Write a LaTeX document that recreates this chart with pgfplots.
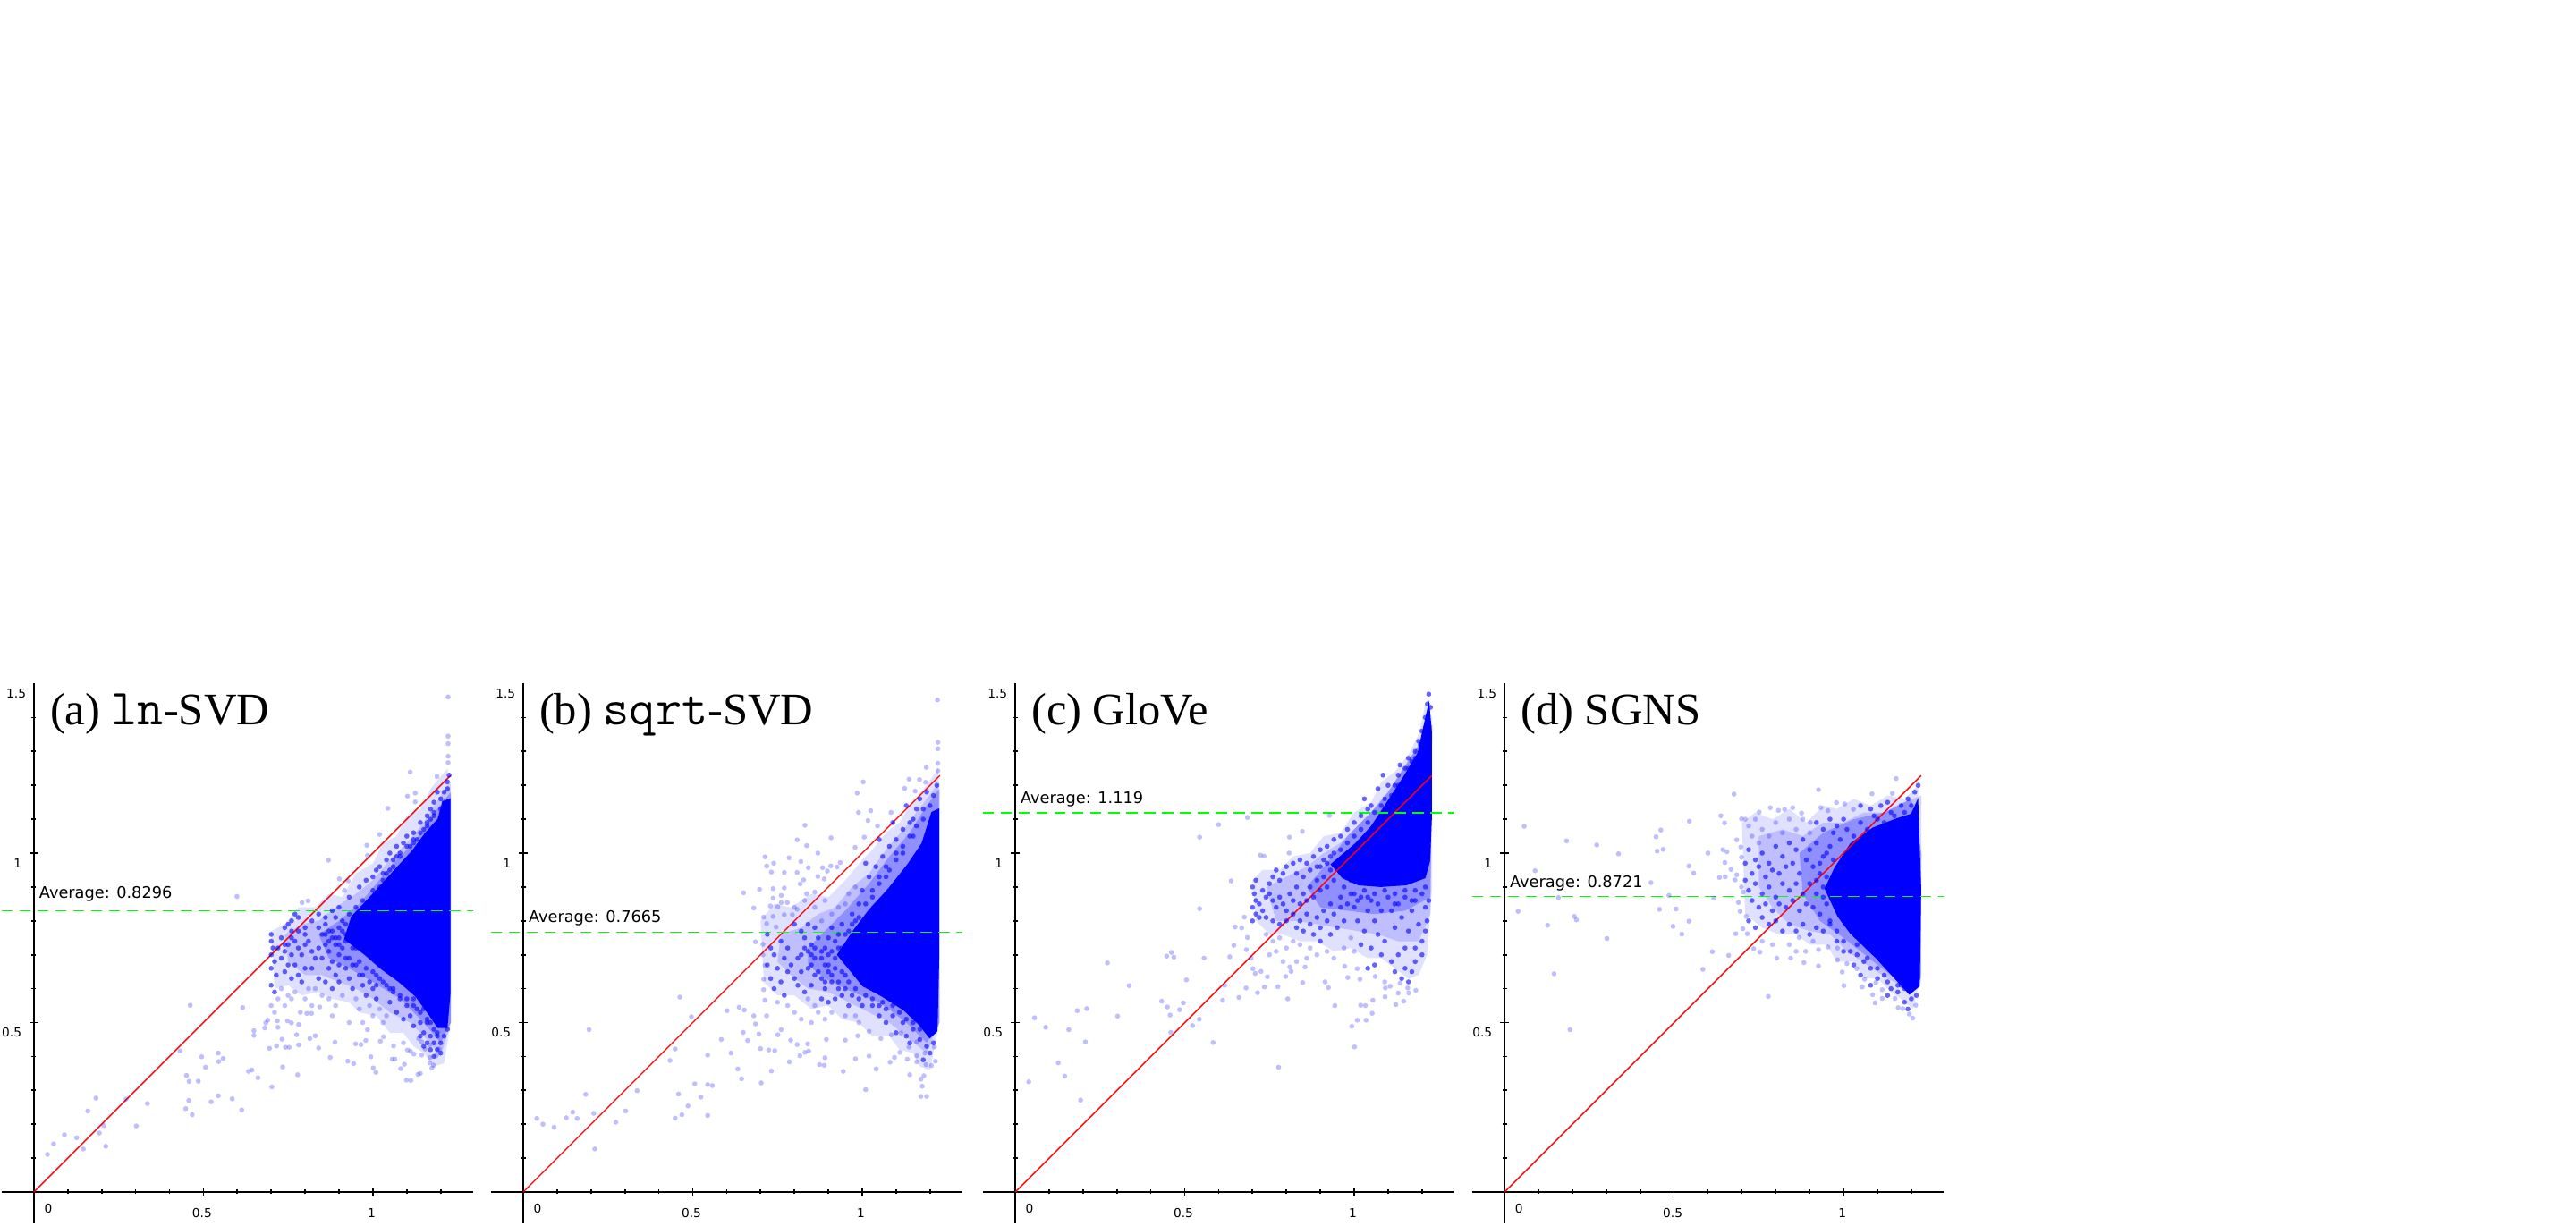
\documentclass[border=0pt]{standalone}
\usepackage{fontspec}
\setmainfont{Liberation Serif}
\newfontfamily\labelfont{DejaVu Sans}
\usepackage{pgfplots}
\pgfplotsset{compat=1.18}
% 1 px of the reference = 0.01cm. The solid core of each cloud is an outline polygon with three
% paler outlines around it (where points are too many to list); the points are read off by eye.
\definecolor{avggreen}{RGB}{0,255,0}
\pgfplotsset{
  panel/.style={
    anchor=origin, x=3.79cm, y=3.79cm,
    xmin=-0.096, xmax=1.295, ymin=-0.0935, ymax=1.5,
    axis lines=middle, axis line style={-, black, line width=0.5pt},
    hide obscured x ticks=false, hide obscured y ticks=false,
    xtick={0.5,1}, xticklabels={0.5,1},
    ytick={0.5,1}, yticklabels={0.5,1},
    minor xtick={0.1,0.2,0.3,0.4,0.6,0.7,0.8,0.9,1.1,1.2},
    minor ytick={0.1,0.2,0.3,0.4,0.6,0.7,0.8,0.9,1.1,1.2,1.3,1.4},
    extra x ticks={0}, extra x tick labels={0},
    extra x tick style={major tick length=0pt, xticklabel style={xshift=0.175cm}},
    extra y ticks={1.5}, extra y tick labels={1.5},
    extra y tick style={major tick length=0pt},
    tick align=center, tick style={black, line width=0.5pt},
    major tick length=0.1cm, minor tick length=0.05cm,
    xticklabel style={font=\labelfont\fontsize{3.9}{5}\selectfont, anchor=center, yshift=-0.185cm, xshift=-0.015cm},
    yticklabel style={font=\labelfont\fontsize{3.9}{5}\selectfont, anchor=east, yshift=-0.115cm, xshift=0.035cm},
    clip=false,
  },
  cloud/.style={only marks, mark=*, mark size=0.8pt,
    mark options={draw opacity=0, fill=blue, fill opacity=0.25}},
  dense/.style={only marks, mark=*, mark size=0.8pt,
    mark options={draw opacity=0, fill=blue, fill opacity=0.6}},
  core/.style={draw=none, fill=blue, mark=none},
  halo/.style={draw=none, fill=blue, fill opacity=#1, mark=none},
  diag/.style={red, line width=0.4pt, mark=none},
  avg/.style={avggreen, line width=0.45pt, mark=none, dash pattern=on 3.6pt off 2.1pt},
}
\newcommand{\paneltitle}[1]{\node[anchor=base west, inner sep=0pt, font=\fontsize{14.4}{16}\selectfont] at (axis cs:0.046,1.378) {#1};}
\newcommand{\tttitle}[1]{{\fontsize{16.1}{16}\selectfont\ttfamily #1}}
\newcommand{\avglabel}[2]{\node[anchor=base west, inner sep=0pt, font=\labelfont\fontsize{5.05}{6}\selectfont] at (axis cs:0.014,#1) {#2};}
\begin{document}
\begin{tikzpicture}
\path[use as bounding box] (0,0) rectangle (28.8,13.71);

% (a)
\begin{axis}[panel, at={(0.379cm,0.38cm)}]
\addplot[halo=0.12] coordinates {(.70,.77)(.74,.79)(.78,.84)(.83,.84)(.87,.88)(.91,.87)(.95,.94)(1.0,.97)(1.03,1.03)(1.07,1.05)(1.10,1.11)(1.14,1.13)(1.17,1.19)(1.22,1.25)(1.23,1.16)(1.23,.50)(1.21,.38)(1.18,.37)(1.15,.41)(1.12,.43)(1.09,.47)(1.05,.47)(1.01,.52)(.96,.53)(.93,.56)(.88,.57)(.84,.59)(.79,.58)(.75,.61)(.71,.60)(.70,.77)};
\addplot[halo=0.15] coordinates {(.74,.76)(.79,.79)(.84,.80)(.89,.84)(.95,.88)(1.0,.92)(1.05,.98)(1.10,1.03)(1.15,1.09)(1.20,1.17)(1.23,1.21)(1.23,.5)(1.2,.40)(1.16,.45)(1.11,.50)(1.05,.53)(1.0,.57)(.95,.60)(.90,.62)(.85,.64)(.80,.64)(.75,.68)(.74,.76)};
\addplot[halo=0.25] coordinates {(.84,.76)(.90,.80)(.96,.85)(1.01,.91)(1.06,.97)(1.12,1.03)(1.19,1.13)(1.23,1.18)(1.23,.5)(1.2,.44)(1.15,.50)(1.08,.57)(1.0,.62)(.93,.66)(.87,.69)(.84,.76)};
\addplot[core] coordinates {(1.229,1.162)(1.205,1.152)(1.191,1.101)(1.154,1.060)(1.116,1.008)(1.069,.957)(1.022,.905)(.975,.854)(.936,.813)(.915,.746)(.975,.700)(1.022,.659)(1.078,.618)(1.125,.577)(1.163,.525)(1.191,.484)(1.220,.484)(1.229,.587)(1.229,1.162)};
\addplot[cloud] coordinates {
(1.222,1.461)(1.222,1.345)(1.222,1.323)(1.222,1.286)(1.222,1.267)(1.110,1.239)(1.189,1.226)(1.102,1.168)(1.125,1.177)(1.125,1.151)(1.044,1.132)(1.020,1.055)(.982,1.023)(.984,.993)(.869,.979)(.901,.924)(.927,.918)(.599,.872)(.809,.859)(.791,.854)(.916,.890)
(.461,.551)(.616,.544)(.431,.416)(.544,.410)(.558,.394)(.545,.385)(.495,.399)(.506,.368)(.450,.344)(.458,.326)(.485,.327)(.633,.356)(.643,.360)(.661,.337)(.702,.310)(.734,.369)(.778,.346)(.544,.284)(.585,.275)(.523,.266)(.457,.270)(.448,.246)(.467,.228)(.613,.242)
(.183,.277)(.272,.274)(.335,.261)(.159,.239)(.206,.196)(.302,.195)(.193,.174)(.212,.135)(.146,.127)(.126,.160)(.090,.169)(.058,.142)(.040,.111)
(.994,.399)(1.001,.366)(1.009,.353)(.926,.386)(.943,.379)(.874,.397)(.888,.442)(.840,.425)(.781,.434)(.753,.427)(.742,.427)(.716,.431)(.695,.424)(.732,.451)(.775,.464)(.814,.453)(.830,.461)(.649,.476)(.649,.462)(.681,.484)(.684,.499)(.690,.507)(.718,.505)(.720,.486)(.748,.505)(.760,.499)(.781,.494)(.786,.530)(.805,.527)(.819,.527)(.843,.546)
(1.082,.364)(1.093,.377)(1.099,.330)(1.112,.329)(1.133,.347)(1.140,.350)(1.057,.392)(1.065,.392)(1.061,.431)(1.022,.445)(.984,.479)(.949,.437)(.965,.435)(.979,.447)(1.031,.458)(1.090,.440)(1.111,.415)(1.121,.407)(1.102,.419)(1.144,.404)(1.168,.381)(1.174,.366)(1.179,.374)(1.168,.397)(1.154,.422)(1.187,.402)(1.196,.422)(1.168,.433)(1.144,.443)(1.135,.453)
(.70,.55)(.71,.53)(.72,.57)(.73,.60)(.74,.55)(.76,.57)(.75,.58)(.77,.59)(.80,.57)(.82,.55)(.81,.60)(.83,.60)(.85,.58)(.87,.57)(.89,.55)(.91,.58)(.88,.52)(.93,.50)(.97,.50)(1.00,.52)(1.03,.50)(1.04,.52)(.95,.57)(.96,.54)(.99,.55)(1.02,.54)
};
\addplot[dense] coordinates {
(.70,.76)(.70,.74)(.705,.72)(.70,.70)(.71,.68)(.70,.66)(.715,.64)(.70,.61)(.71,.59)
(.73,.75)(.74,.71)(.73,.69)(.75,.67)(.74,.65)(.76,.63)(.75,.73)(.76,.70)(.76,.77)(.74,.78)(.72,.72)(.74,.73)(.76,.75)(.78,.77)
(.77,.74)(.78,.72)(.79,.70)(.77,.67)(.80,.66)(.78,.64)(.79,.62)(.81,.74)(.80,.76)(.82,.71)(.83,.69)(.82,.66)(.84,.63)(.80,.73)(.77,.82)(.78,.81)(.76,.80)(.75,.79)(.82,.80)(.80,.78)
(.84,.78)(.85,.76)(.86,.79)(.87,.77)(.88,.75)(.86,.73)(.84,.72)(.87,.71)(.89,.73)(.85,.69)(.88,.68)(.90,.70)(.87,.66)(.89,.64)(.86,.62)(.88,.60)(.90,.62)(.90,.78)(.89,.81)(.91,.80)(.92,.76)(.90,.75)(.91,.72)(.93,.69)(.84,.82)(.86,.81)(.88,.83)(.90,.84)
(.94,.72)(.92,.66)(.95,.67)(.93,.63)(.96,.64)(.94,.60)(.97,.61)(.98,.58)(1.00,.60)(1.01,.57)(1.05,.56)(.92,.79)(.93,.82)(.95,.84)(.94,.79)(.96,.82)
(1.06,.59)(1.08,.57)(1.10,.55)(1.07,.53)(1.09,.51)(1.11,.52)(1.12,.49)(1.13,.54)(1.14,.50)(1.15,.47)(1.16,.50)(1.17,.46)(1.18,.44)(1.19,.46)(1.20,.44)(1.21,.46)(1.19,.42)(1.17,.42)(1.16,.44)(1.15,.43)(1.18,.40)(1.20,.41)(1.22,.48)(1.21,.50)(1.14,.46)(1.03,.62)(1.05,.60)(1.01,.64)
(.97,.86)(.93,.87)(.96,.90)(.98,.92)(1.00,.93)(1.02,.96)(1.04,.98)(1.05,1.00)(1.07,1.02)(1.09,1.03)(1.10,1.05)(1.12,1.06)(1.14,1.09)(1.16,1.11)(1.17,1.13)(1.18,1.15)(1.20,1.16)(1.21,1.18)(1.22,1.21)(1.00,.89)(1.03,.92)(1.06,.96)(1.08,.99)(1.11,1.02)(1.13,1.04)(1.15,1.07)(1.18,1.11)(1.20,1.13)(1.01,.95)(1.04,.94)(1.07,.99)(1.12,1.03)(1.16,1.08)(1.19,1.18)(1.21,1.15)(1.22,1.19)(1.225,1.23)
(.86,.76)(.87,.74)(.88,.77)(.89,.75)(.90,.73)(.91,.77)(.92,.74)(.93,.77)(.94,.75)(.95,.72)(.96,.75)(.95,.79)(.97,.77)(.97,.82)(.98,.84)(.99,.86)(1.00,.87)(1.01,.88)(1.02,.90)(1.03,.94)(1.05,.95)(1.06,.98)(1.08,1.00)(1.10,1.02)(1.12,1.04)(1.14,1.06)(1.16,1.09)(1.17,1.10)(1.18,1.12)
(.96,.68)(.98,.66)(1.00,.65)(1.02,.63)(1.04,.61)(1.06,.60)(1.08,.58)(1.10,.57)(1.12,.55)(1.14,.53)(1.16,.51)(1.18,.48)(1.12,.57)(1.15,.54)(1.17,.50)(1.19,.47)(.90,.67)(.92,.69)(.94,.67)(.97,.64)(.99,.62)(1.01,.61)
};
\addplot[diag] coordinates {(0,0)(1.229,1.229)};
\addplot[avg] coordinates {(-0.096,0.8296)(1.295,0.8296)};
\paneltitle{(a) \tttitle{ln}-SVD}
\avglabel{0.866}{Average: 0.8296}
\end{axis}

% (b)
\begin{axis}[panel, at={(5.85cm,0.38cm)}]
\addplot[halo=0.12] coordinates {(.70,.80)(.74,.85)(.79,.84)(.85,.88)(.90,.87)(.95,.92)(1.0,.98)(1.03,1.01)(1.07,1.06)(1.11,1.09)(1.14,1.14)(1.19,1.20)(1.225,1.25)(1.228,.5)(1.2,.36)(1.17,.37)(1.15,.41)(1.11,.42)(1.08,.46)(1.03,.46)(.99,.50)(.94,.51)(.90,.55)(.85,.54)(.80,.58)(.75,.58)(.71,.62)(.70,.80)};
\addplot[halo=0.15] coordinates {(.76,.76)(.82,.78)(.87,.82)(.92,.84)(.97,.90)(1.02,.94)(1.07,1.01)(1.13,1.08)(1.19,1.16)(1.228,1.21)(1.228,.5)(1.19,.41)(1.14,.45)(1.08,.50)(1.02,.53)(.96,.56)(.90,.59)(.84,.60)(.79,.64)(.75,.68)(.76,.76)};
\addplot[halo=0.25] coordinates {(.84,.72)(.89,.77)(.95,.83)(1.02,.91)(1.08,.99)(1.14,1.06)(1.19,1.14)(1.228,1.19)(1.228,.5)(1.19,.44)(1.13,.50)(1.05,.56)(.97,.59)(.89,.63)(.84,.67)(.84,.72)};
\addplot[core] coordinates {(1.227,1.132)(1.204,1.121)(1.175,1.029)(1.133,.967)(1.076,.895)(1.020,.834)(.973,.772)(.925,.700)(1.001,.607)(1.057,.577)(1.123,.535)(1.166,.494)(1.199,.453)(1.222,.474)(1.227,.690)(1.227,1.132)};
\addplot[cloud] coordinates {
(1.222,1.452)(1.223,1.327)(1.223,1.308)(1.223,1.265)(1.223,1.243)(1.189,1.253)(1.138,1.218)(1.169,1.217)(1.187,1.209)(1.003,1.210)(.985,1.177)(1.125,1.191)(1.156,1.183)(.989,1.120)(1.025,1.125)(1.017,1.096)(1.085,1.120)(.831,1.082)(1.045,1.080)(.808,1.039)(.908,1.045)(.836,1.022)(.869,1.000)(.979,1.017)(1.006,1.047)
(.713,.989)(.819,.975)(.739,.970)(.784,.986)(.718,.962)(.732,.944)(.770,.943)(.808,.943)(.841,.957)(.883,.957)(.907,.962)(.935,.972)(.897,.947)(.926,.959)(.869,.931)(.888,.924)(.827,.921)(.817,.909)(.737,.895)(.770,.897)(.697,.893)(.650,.883)(.680,.838)
(.860,.885)(.836,.880)(.761,.875)(.737,.867)(.761,.854)(.779,.854)(.729,.844)(.751,.842)(.808,.834)(.709,.811)(.737,.813)(.770,.818)(.794,.818)(.718,.792)(.746,.782)(.685,.738)
(.462,.575)(.496,.517)(.601,.535)(.637,.545)(.652,.537)(.194,.479)(.448,.422)(.584,.450)(.613,.410)(.433,.388)(.544,.404)
(.633,.363)(.644,.334)(.702,.322)(.732,.357)(.506,.319)(.544,.317)(.558,.314)(.458,.289)(.524,.280)(.486,.254)(.468,.228)(.448,.218)(.544,.226)
(.336,.299)(.184,.288)(.302,.239)(.146,.236)(.127,.219)(.159,.217)(.208,.232)(.273,.206)(.040,.217)(.058,.200)(.091,.191)(.211,.127)
(1.010,.302)(.980,.393)(1.020,.401)(1.041,.363)(.944,.356)(.874,.376)(.888,.374)(.890,.396)(.894,.450)(.950,.448)(.785,.384)(.816,.402)(.831,.412)(.842,.416)(.808,.435)(.839,.437)(.789,.448)(.700,.423)(.724,.419)(.742,.417)(.695,.466)(.662,.447)(.649,.471)(.751,.464)(.761,.479)
(1.173,.282)(1.190,.282)(1.177,.312)(1.173,.333)(1.182,.343)(1.140,.346)(1.082,.383)(1.095,.397)(1.111,.412)(1.133,.392)(1.161,.384)(1.188,.376)(1.204,.373)(1.216,.386)(1.138,.428)(1.161,.402)(1.185,.410)(1.213,.428)(1.055,.453)(1.020,.474)(.987,.461)(1.086,.464)(1.114,.469)(1.161,.443)
(.707,.731)(.707,.700)(.713,.669)(.709,.628)(.709,.597)(.713,.566)(.718,.520)(.680,.520)(.685,.496)
(.75,.56)(.78,.55)(.80,.53)(.82,.51)(.85,.50)(.84,.57)(.86,.55)(.87,.53)(.89,.51)(.91,.53)(.95,.52)(.98,.52)(.99,.50)(.88,.80)(.80,.84)(.83,.86)(.86,.84)(.89,.86)(.91,.82)(.93,.84)(.95,.85)(.96,.88)(.98,.90)
};
\addplot[dense] coordinates {
(.72,.76)(.73,.72)(.74,.70)(.72,.67)(.75,.66)(.73,.63)(.76,.62)(.74,.60)(.77,.58)
(.76,.74)(.78,.72)(.77,.69)(.79,.67)(.81,.69)(.78,.65)(.80,.63)(.82,.65)(.81,.61)(.83,.59)(.85,.61)(.88,.57)(.90,.56)
(.80,.79)(.82,.77)(.84,.79)(.83,.75)(.85,.73)(.87,.75)(.84,.71)(.86,.69)(.88,.71)(.85,.67)(.87,.65)(.89,.67)(.88,.63)(.90,.65)(.89,.60)(.91,.62)(.93,.60)(.92,.57)(.94,.58)(.96,.55)(1.00,.55)
(.83,.72)(.85,.70)(.82,.70)(.86,.72)(.88,.69)(.90,.70)(.89,.72)(.91,.71)(.93,.72)(.92,.69)(.90,.67)(.92,.66)(.94,.65)(.96,.62)(.95,.64)(.98,.60)
(.97,.82)(.99,.85)(1.00,.89)(.91,.78)(.94,.79)(.96,.77)(.98,.80)(.86,.78)(.90,.75)(.93,.76)
(1.02,.93)(1.04,.96)(1.01,.97)(1.06,.99)(1.08,1.02)(1.05,1.04)(1.10,1.04)(1.12,1.07)(1.09,1.09)(1.14,1.09)(1.16,1.13)(1.13,1.14)(1.17,1.16)(1.19,1.18)(1.21,1.17)(1.20,1.14)(1.18,1.10)(1.15,1.05)(1.12,1.00)(1.08,.95)(1.05,.91)(1.03,.87)(1.22,1.20)(1.15,1.10)(1.10,.98)(1.07,.93)
(1.03,.55)(1.05,.52)(1.07,.50)(1.06,.56)(1.09,.52)(1.12,.50)(1.10,.47)(1.13,.46)(1.15,.48)(1.14,.44)(1.17,.45)(1.19,.43)(1.21,.44)(1.20,.41)(1.18,.39)(1.03,.60)(1.00,.62)
(.84,.66)(.86,.64)(.89,.62)(.91,.64)(.93,.62)(.95,.60)(.97,.58)(.99,.57)(1.01,.58)(1.03,.57)(1.05,.55)(1.07,.54)(1.09,.55)(1.11,.53)(1.13,.51)(1.15,.50)(1.17,.48)
(.95,.69)(.94,.72)(.92,.74)(.95,.76)(.97,.79)(.99,.81)(1.01,.85)(1.03,.89)(1.05,.93)(1.07,.96)(1.10,1.00)(1.12,1.02)(1.14,1.05)(1.16,1.08)(1.18,1.13)
};
\addplot[diag] coordinates {(0,0)(1.229,1.229)};
\addplot[avg] coordinates {(-0.096,0.7665)(1.295,0.7665)};
\paneltitle{(b) \tttitle{sqrt}-SVD}
\avglabel{0.795}{Average: 0.7665}
\end{axis}

% (c)
\begin{axis}[panel, at={(11.35cm,0.38cm)}]
\addplot[halo=0.12] coordinates {(.70,.92)(.73,.95)(.78,.95)(.82,.99)(.87,1.00)(.91,1.05)(.96,1.06)(1.0,1.12)(1.05,1.15)(1.08,1.21)(1.12,1.24)(1.16,1.29)(1.19,1.35)(1.21,1.44)(1.23,1.4)(1.23,.9)(1.215,.70)(1.19,.64)(1.16,.63)(1.12,.66)(1.08,.69)(1.04,.69)(.99,.72)(.94,.71)(.89,.74)(.84,.74)(.79,.76)(.75,.76)(.71,.80)(.70,.92)};
\addplot[halo=0.15] coordinates {(.74,.90)(.80,.93)(.86,.96)(.91,1.0)(.96,1.03)(1.01,1.08)(1.06,1.13)(1.10,1.18)(1.23,1.38)(1.225,.82)(1.19,.74)(1.13,.74)(1.07,.76)(1.01,.77)(.95,.78)(.89,.79)(.83,.80)(.77,.80)(.74,.90)};
\addplot[halo=0.25] coordinates {(.86,.90)(.92,.97)(.98,1.05)(1.04,1.11)(1.10,1.18)(1.23,1.38)(1.225,.87)(1.15,.83)(1.06,.82)(.98,.83)(.90,.84)(.86,.90)};
\addplot[core] coordinates {(1.221,1.450)(1.229,1.358)(1.229,1.101)(1.224,.977)(1.210,.926)(1.154,.905)(1.078,.900)(1.012,.905)(.965,.926)(.930,.967)(1.003,1.029)(1.050,1.080)(1.097,1.152)(1.144,1.224)(1.187,1.296)(1.205,1.378)(1.221,1.450)};
\addplot[cloud] coordinates {
(.685,1.105)(.600,1.084)(.544,1.047)(.637,.918)(.544,.836)(.723,.994)(.734,.991)(.809,1.047)(.808,1.000)(.847,1.064)(.927,1.111)
(.272,.676)(.336,.609)(.557,.690)(.447,.696)(.461,.707)(.468,.693)(.505,.626)(.432,.563)(.449,.546)(.496,.558)(.485,.538)(.457,.522)(.543,.510)(.523,.491)(.459,.471)(.584,.441)(.777,.368)(.302,.519)(.211,.541)(.183,.535)(.057,.514)(.090,.486)(.158,.479)(.207,.443)(.127,.381)(.146,.342)(.040,.325)(.193,.271)
(.612,.566)(.660,.574)(.715,.588)(.681,.602)(.735,.605)(.775,.606)(.804,.570)(.848,.618)(.618,.610)(.914,.620)(.924,.603)(.943,.550)(1.019,.551)(1.033,.550)(1.055,.566)(1.053,.527)(1.035,.507)(1.009,.507)(.993,.489)(1.001,.428)(1.091,.576)(1.123,.553)(1.146,.563)(1.182,.595)(1.161,.587)(1.130,.587)
(.981,.633)(1.017,.628)(.972,.666)(1.009,.659)(1.062,.636)(1.090,.620)(1.092,.602)(1.106,.607)(1.135,.616)(1.158,.602)
(.676,.811)(.649,.782)(.668,.779)(.685,.751)(.645,.728)(.682,.715)(.633,.694)(.696,.690)(.701,.659)(.725,.651)(.708,.645)(.744,.635)(.810,.664)(.814,.651)(.798,.636)(.855,.664)
(.74,.76)(.76,.74)(.78,.75)(.80,.72)(.77,.71)(.75,.70)(.79,.68)(.82,.74)(.84,.73)(.87,.72)(.89,.70)(.86,.69)(.92,.71)(.94,.69)(.97,.72)(.99,.75)(1.00,.71)(.83,.68)
};
\addplot[dense] coordinates {
(1.220,1.469)(1.216,1.44)(1.225,1.43)(1.21,1.40)(1.20,1.36)(1.19,1.33)(1.18,1.30)(1.17,1.27)(1.15,1.25)(1.135,1.26)(1.12,1.20)(1.10,1.20)(1.085,1.23)(1.07,1.19)(1.05,1.14)(1.03,1.16)(1.09,1.16)(1.13,1.23)(1.16,1.28)
(.71,.92)(.70,.90)(.705,.88)(.71,.86)(.70,.84)(.71,.82)(.70,.80)(.72,.81)(.73,.83)(.72,.85)(.74,.87)(.73,.89)(.75,.91)(.76,.93)(.77,.95)(.78,.92)(.79,.94)(.80,.96)(.82,.97)(.84,.98)(.86,.97)(.88,.99)(.90,1.01)(.92,1.02)(.94,1.04)(.96,1.05)(.98,1.07)(1.00,1.09)(1.02,1.11)(1.04,1.13)
(.75,.88)(.76,.86)(.78,.87)(.77,.84)(.79,.85)(.81,.88)(.80,.83)(.82,.86)(.83,.90)(.85,.88)(.84,.85)(.86,.86)(.87,.90)(.89,.92)(.88,.87)(.90,.89)(.91,.93)(.93,.95)(.92,.90)(.94,.92)(.95,.97)(.97,.99)(.85,.93)(.83,.94)(.87,.95)(.89,.96)(.91,.98)(.93,.99)
(.74,.81)(.76,.80)(.78,.79)(.80,.80)(.82,.82)(.84,.80)(.86,.82)(.83,.78)(.85,.77)(.87,.79)(.89,.81)(.91,.83)(.93,.85)(.90,.78)(.92,.80)(.94,.82)(.96,.87)(.88,.76)(.90,.74)(.93,.76)(.95,.78)(.97,.80)(.96,.84)(.98,.85)(.99,.88)
(1.00,.84)(1.02,.87)(1.04,.83)(1.01,.80)(1.03,.77)(1.06,.80)(1.05,.86)(1.08,.83)(1.10,.87)(1.07,.76)(1.09,.74)(1.12,.78)(1.11,.83)(1.13,.85)(1.15,.87)(1.14,.81)(1.17,.83)(1.16,.77)(1.19,.79)(1.18,.86)(1.20,.88)(1.21,.84)(1.215,.80)(1.20,.74)(1.18,.72)(1.21,.77)(1.15,.72)(1.13,.70)(1.11,.68)(1.08,.70)(1.05,.72)(1.02,.73)(1.12,.65)(1.15,.66)(1.18,.68)(1.14,.63)(1.17,.65)(1.20,.70)(1.06,.67)(1.04,.66)(1.16,.62)
(1.00,.88)(1.03,.89)(1.06,.88)(1.09,.89)(1.12,.88)(1.15,.89)(1.18,.89)(1.21,.90)(.97,.90)(1.22,.86)(.99,.92)(1.01,.86)(1.07,.85)(1.12,.85)(1.17,.86)(1.04,.87)(.90,.96)(.92,.97)(.94,1.00)(.96,1.01)(.98,1.03)(1.00,1.05)(1.02,1.07)(1.04,1.09)(1.06,1.12)(1.08,1.14)
(1.11,1.17)(1.13,1.20)(1.16,1.25)(1.18,1.28)(1.195,1.32)(1.21,1.37)
};
\addplot[diag] coordinates {(0,0)(1.229,1.229)};
\addplot[avg] coordinates {(-0.096,1.119)(1.295,1.119)};
\paneltitle{(c) GloVe}
\avglabel{1.147}{Average: 1.119}
\end{axis}

% (d)
\begin{axis}[panel, at={(16.821cm,0.38cm)}]
\addplot[halo=0.12] coordinates {(.70,1.09)(.74,1.12)(.79,1.10)(.84,1.13)(.89,1.09)(.94,1.14)(.98,1.13)(1.03,1.16)(1.08,1.14)(1.13,1.17)(1.18,1.16)(1.22,1.20)(1.23,.65)(1.205,.54)(1.17,.57)(1.14,.59)(1.10,.63)(1.06,.63)(1.03,.68)(.98,.68)(.95,.73)(.90,.73)(.86,.76)(.81,.76)(.76,.78)(.71,.82)(.70,1.09)};
\addplot[halo=0.15] coordinates {(.75,1.05)(.82,1.07)(.88,1.05)(.94,1.09)(1.0,1.09)(1.06,1.12)(1.12,1.12)(1.18,1.15)(1.23,1.17)(1.228,.62)(1.19,.60)(1.13,.63)(1.07,.67)(1.01,.71)(.96,.76)(.90,.77)(.84,.79)(.79,.84)(.75,.90)(.75,1.05)};
\addplot[halo=0.25] coordinates {(.87,1.00)(.94,1.06)(1.03,1.10)(1.12,1.12)(1.2,1.16)(1.23,1.0)(1.228,.63)(1.18,.61)(1.1,.67)(1.0,.75)(.93,.80)(.88,.88)(.87,1.00)};
\addplot[core] coordinates {(1.220,1.162)(1.199,1.116)(1.152,1.101)(1.086,1.075)(1.020,1.029)(.973,.957)(.944,.895)(.982,.813)(1.020,.762)(1.095,.690)(1.152,.628)(1.194,.582)(1.225,.607)(1.229,.895)(1.220,1.162)};
\addplot[cloud] coordinates {
(1.155,1.220)(.926,1.187)(1.084,1.175)(1.144,1.176)(.677,1.174)(.638,1.110)(.649,1.089)(.545,1.094)(.058,1.079)(.183,1.036)(.272,1.024)(.461,1.068)(.447,1.048)(.336,.998)(.450,1.006)(.468,1.011)(.600,1.000)(.644,1.010)(.656,1.004)(.650,.972)(.544,.962)(.558,.941)(.090,.948)(.634,.928)(.651,.930)(.668,.952)(.432,.913)(.485,.875)(.159,.869)(.617,.867)(.040,.828)(.457,.834)(.506,.835)(.206,.813)(.212,.803)(.127,.787)(.497,.784)(.544,.799)(.523,.761)(.302,.748)(.613,.709)(.661,.698)(.585,.657)(.146,.644)(.778,.577)(.193,.479)
(1.001,.609)(1.055,.605)(1.093,.558)(1.086,.582)(1.161,.544)(1.204,.513)(1.194,.525)(1.175,.541)(1.213,.551)(1.114,.571)(1.152,.571)
(.699,1.101)(.71,1.10)(.685,1.039)(.697,1.018)(.699,.988)(.685,.936)(.680,.921)(.699,.900)(.704,.885)(.690,.854)(.695,.828)(.713,.813)(.703,.777)(.716,.762)(.682,.762)
(.751,1.121)(.784,1.134)(.808,1.126)(.826,1.129)(.850,1.134)(.876,1.118)(.902,1.090)(.933,1.134)(.954,1.125)(.979,1.149)(1.003,1.145)(1.029,1.129)
(.735,.718)(.753,.708)(.803,.690)(.844,.690)(.883,.677)(.926,.667)(.869,.751)(.888,.710)(.926,.715)(.954,.723)(.982,.720)(.982,.685)(1.010,.674)(.996,.649)(1.039,.659)(1.062,.628)(1.095,.618)(1.114,.597)
(.72,1.08)(.74,1.10)(.76,1.07)(.73,1.05)(.75,1.03)(.78,1.05)(.80,1.09)(.82,1.06)(.84,1.10)(.86,1.07)(.88,1.10)(.90,1.06)
(.76,.74)(.79,.73)(.84,.73)(.86,.71)(.91,.74)
};
\addplot[dense] coordinates {
(1.05,1.14)(1.08,1.13)(1.11,1.14)(1.13,1.15)(1.17,1.14)(1.19,1.16)(1.21,1.18)(1.22,1.20)(1.20,1.14)(1.10,1.10)(1.14,1.12)(.92,1.09)(.94,1.07)(.96,1.10)(.98,1.08)(1.00,1.10)
(.72,1.01)(.74,.98)(.76,1.00)(.78,.97)(.80,1.02)(.82,.99)(.84,1.03)(.86,1.01)(.88,1.04)(.90,1.01)(.92,1.03)(.94,.99)(.96,1.02)(.97,1.06)(.71,.97)(.73,.94)(.75,.96)(.77,.93)(.79,.95)(.81,.94)(.83,.96)(.85,.97)(.87,.94)(.89,.98)(.91,.96)(.93,.94)(.95,.93)
(.71,.92)(.72,.89)(.74,.91)(.76,.88)(.78,.90)(.80,.87)(.82,.91)(.84,.89)(.86,.91)(.88,.88)(.90,.91)(.92,.88)(.94,.90)(.73,.86)(.75,.84)(.77,.85)(.79,.83)(.81,.85)(.83,.84)(.85,.86)(.87,.83)(.89,.85)(.91,.84)(.93,.82)(.95,.85)
(.72,.80)(.74,.78)(.76,.81)(.78,.79)(.80,.80)(.82,.77)(.84,.79)(.86,.77)(.88,.79)(.90,.76)(.92,.78)(.94,.77)(.96,.79)(.98,.77)
(1.00,.74)(1.02,.71)(1.04,.70)(1.03,.67)(1.06,.68)(1.08,.66)(1.05,.64)(1.10,.63)(1.12,.64)(1.14,.60)(1.13,.58)(1.16,.59)(1.18,.56)(1.20,.57)(1.17,.61)(1.19,.54)(1.215,.58)(1.08,.61)
(.99,1.04)(1.01,1.07)(1.03,1.05)(1.05,1.09)(1.07,1.07)(1.09,1.11)(1.12,1.09)(1.15,1.11)(1.18,1.12)(.95,1.00)(.93,.97)(.97,.98)(.92,.92)(.94,.87)(.96,.80)(.98,.74)(1.00,.71)(1.04,.73)(1.07,.69)(1.10,.66)(1.13,.62)(1.16,.61)(1.18,.60)
};
\addplot[diag] coordinates {(0,0)(1.229,1.229)};
\addplot[avg] coordinates {(-0.096,0.8721)(1.295,0.8721)};
\paneltitle{(d) SGNS}
\avglabel{0.899}{Average: 0.8721}
\end{axis}
\end{tikzpicture}
\end{document}
